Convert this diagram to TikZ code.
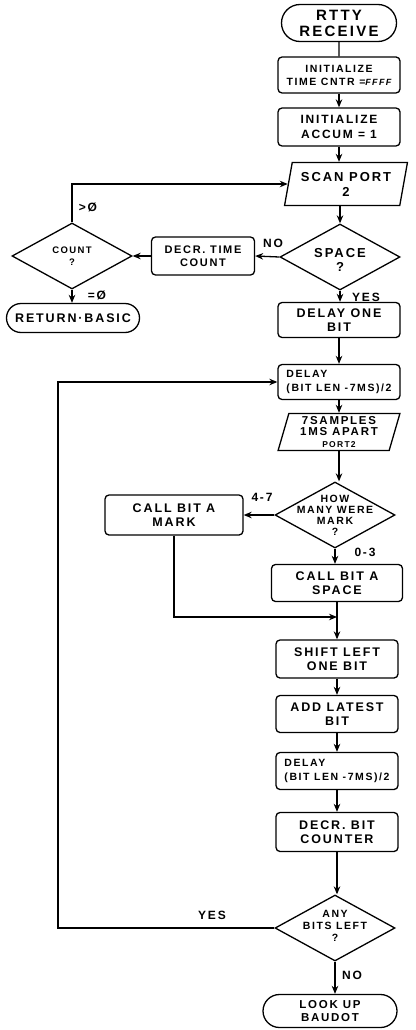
\documentclass[tikz,border=0pt]{standalone}
\usepackage{fontspec}
\setmainfont{Liberation Sans}
\newfontfamily\hand[LetterSpace=15]{Liberation Sans}
\usetikzlibrary{shapes.geometric,shapes.misc,arrows.meta}
\newcommand{\fs}[2]{\hand\bfseries\fontsize{#1}{#2}\selectfont}
\begin{document}
\begin{tikzpicture}[x=1pt,y=-1pt,
  every node/.style={font=\fs{12.5}{14}, align=center, inner sep=0pt},
  ln/.style={line width=1.3pt},
  proc/.style={ln, draw, rectangle, rounded corners=4pt, minimum width=122pt, minimum height=37pt},
  term/.style={ln, draw, rounded rectangle, minimum width=115pt, minimum height=37pt},
  io/.style={ln, draw, trapezium, trapezium left angle=75, trapezium right angle=105, trapezium stretches=true, minimum width=123pt, minimum height=43pt},
  dec/.style={ln, draw, diamond, minimum width=120pt, minimum height=66pt},
  flow/.style={ln, -{Stealth[length=8pt,width=6.5pt]}},
  lbl/.style={font=\fs{12}{13}},
]
\useasboundingbox (0,0) rectangle (415,1030);
\fill[white] (0,0) rectangle (415,1030);

% main column
\node[term, font=\fs{15}{16}] (rtty) at (339,23) {RTTY\\RECEIVE};
\node[proc, minimum height=36pt, font=\fs{10.5}{13}] (init1) at (339,75) {INITIALIZE\\TIME CNTR ={\fontsize{9}{10}\selectfont\itshape FFFF}};
\node[proc, minimum height=38pt, font=\fs{12}{15}] (init2) at (339,127) {INITIALIZE\\ACCUM = 1};
\node[io, font=\fs{13}{15}] (scan) at (346,184) {SCAN PORT\\2};
\node[dec] (space) at (340,257) {};
\node[font=\fs{13}{14}] (spacet) at (340,260) {SPACE\\?};
\node[proc, minimum height=35pt] (d1) at (339,320) {DELAY ONE\\BIT};
\node[proc, minimum height=35pt, align=left, font=\fs{10.5}{14}] (d2) at (339,382) {DELAY\\(BIT LEN -7MS)/2};
\node[io, minimum height=37pt, font=\fs{11.5}{11.5}] (samp) at (339,432) {7SAMPLES\\1MS APART\\{\fontsize{8.5}{9}\selectfont PORT2}};
\node[dec] (many) at (335,515) {};
\node[font=\fs{10.5}{11}] (manyt) at (335,515) {HOW\\MANY WERE\\MARK\\?};
\node[proc, minimum width=131pt] (csp) at (337,583) {CALL BIT A\\SPACE};
\coordinate (merge) at (337,617);
\node[proc, minimum height=38pt] (shift) at (337,659) {SHIFT LEFT\\ONE BIT};
\node[proc] (add) at (337,714) {ADD LATEST\\BIT};
\node[proc, align=left, font=\fs{10.5}{14}] (d3) at (337,771) {DELAY\\(BIT LEN -7MS)/2};
\node[proc, minimum height=39pt] (decb) at (337,832) {DECR. BIT\\COUNTER};
\node[dec] (any) at (335,928) {};
\node[font=\fs{10.5}{12}] (anyt) at (335,926) {ANY\\BITS LEFT\\?};
\node[term, minimum width=134pt, minimum height=33pt, font=\fs{11.5}{13}] (look) at (330,1011) {LOOK UP\\BAUDOT};

% left side
\node[proc, minimum width=103pt, minimum height=38pt, font=\fs{11}{13}] (decrt) at (203,256) {DECR. TIME\\COUNT};
\node[dec, minimum width=120pt] (count) at (72,256) {};
\node[font=\fs{9.5}{12}] (countt) at (72,256) {COUNT\\?};
\node[term, minimum width=133pt, minimum height=29pt, font=\fs{12.5}{14}] (ret) at (73,318) {RETURN·BASIC};
\node[proc, minimum width=138pt, minimum height=40pt] (mark) at (174,515) {CALL BIT A\\MARK};
\coordinate (lb) at (58,928);

% connectors
\draw[ln] (rtty) -- (init1);
\draw[flow] (init1) -- (init2);
\draw[flow] (init2.south) -- (init2.south |- scan.north);
\draw[flow] (count.north) |- (scan.west);
\draw[flow] (space.north |- scan.south) -- (space.north);
\draw[flow] (space.west) -- (decrt.east);
\draw[flow] (decrt.west) -- (count.east);
\draw[flow] (count.south) -- (count.south |- ret.north);
\draw[flow] (space.south) -- (space.south |- d1.north);
\draw[flow] (d1) -- (d2);
\draw[flow] (d2) -- (samp);
\draw[flow] (samp.south) -- (samp.south |- many.north);
\draw[flow] (many.west) -- (mark.east);
\draw[flow] (many.south) -- (many.south |- csp.north);
\draw[flow] (mark.south) |- (merge);
\draw[flow] (csp.south) -- (shift.north);
\draw[flow] (shift) -- (add);
\draw[flow] (add) -- (d3);
\draw[flow] (d3) -- (decb);
\draw[flow] (decb.south) -- (decb.south |- any.north);
\draw[flow] (any.south) -- (any.south |- look.north);
\draw[flow] (any.west) -- (lb) |- (d2.west);

% labels
\node[lbl] (gt) at (88,207) {>Ø};
\node[lbl] (eq) at (97,295) {=Ø};
\node[lbl] (no1) at (273,243) {NO};
\node[lbl] (yes1) at (366,297) {YES};
\node[lbl] (f47) at (262,497) {4-7};
\node[lbl] (f03) at (365,552) {0-3};
\node[lbl] (yes2) at (212,915) {YES};
\node[lbl] (no2) at (352,975) {NO};
\end{tikzpicture}
\end{document}
